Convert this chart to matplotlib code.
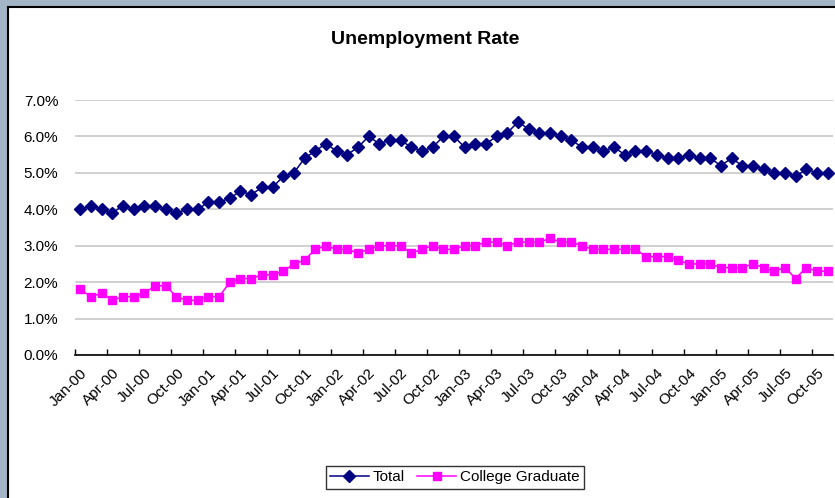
import numpy as np
import matplotlib
matplotlib.use("Agg")
import matplotlib.pyplot as plt
from matplotlib import font_manager
from matplotlib.patches import Rectangle

# monthly values, Jan-00 .. Nov-05
months = [f"{m}-{y:02d}" for y in range(0, 6)
          for m in ["Jan", "Feb", "Mar", "Apr", "May", "Jun",
                    "Jul", "Aug", "Sep", "Oct", "Nov", "Dec"]][:71]

total = [4.0, 4.1, 4.0, 3.9, 4.1, 4.0, 4.1, 4.1, 4.0, 3.9, 4.0, 4.0,
         4.2, 4.2, 4.3, 4.5, 4.4, 4.6, 4.6, 4.9, 5.0, 5.4, 5.6, 5.8,
         5.6, 5.5, 5.7, 6.0, 5.8, 5.9, 5.9, 5.7, 5.6, 5.7, 6.0, 6.0,
         5.7, 5.8, 5.8, 6.0, 6.1, 6.4, 6.2, 6.1, 6.1, 6.0, 5.9, 5.7,
         5.7, 5.6, 5.7, 5.5, 5.6, 5.6, 5.5, 5.4, 5.4, 5.5, 5.4, 5.4,
         5.2, 5.4, 5.2, 5.2, 5.1, 5.0, 5.0, 4.9, 5.1, 5.0, 5.0]

college = [1.8, 1.6, 1.7, 1.5, 1.6, 1.6, 1.7, 1.9, 1.9, 1.6, 1.5, 1.5,
           1.6, 1.6, 2.0, 2.1, 2.1, 2.2, 2.2, 2.3, 2.5, 2.6, 2.9, 3.0,
           2.9, 2.9, 2.8, 2.9, 3.0, 3.0, 3.0, 2.8, 2.9, 3.0, 2.9, 2.9,
           3.0, 3.0, 3.1, 3.1, 3.0, 3.1, 3.1, 3.1, 3.2, 3.1, 3.1, 3.0,
           2.9, 2.9, 2.9, 2.9, 2.9, 2.7, 2.7, 2.7, 2.6, 2.5, 2.5, 2.5,
           2.4, 2.4, 2.4, 2.5, 2.4, 2.3, 2.4, 2.1, 2.4, 2.3, 2.3]

yticks = [0, 1, 2, 3, 4, 5, 6, 7]

installed = {f.name for f in font_manager.fontManager.ttflist}
if "Liberation Sans Narrow" in installed:
    plt.rcParams["font.family"] = ["Liberation Sans Narrow", "DejaVu Sans"]
    fs, fs_title = 13, 16
else:
    plt.rcParams["font.family"] = ["Liberation Sans", "DejaVu Sans"]
    fs, fs_title = 11, 14

fig = plt.figure(figsize=(8.35, 4.98), dpi=100, facecolor="#a4b5c6")
fig.patches.append(Rectangle((8 / 835, -0.1), 1.2, 1.1 - 7 / 498,
                             transform=fig.transFigure, facecolor="white",
                             edgecolor="black", linewidth=1.5, zorder=-5))

ax = fig.add_axes([75 / 835, 1 - 355 / 498, 758 / 835, 255 / 498])
ax.set_facecolor("none")

x = np.arange(len(total))
ax.plot(x, total, color="#000080", marker="D", markersize=6, lw=1.1,
        label="Total", clip_on=False, zorder=3)
ax.plot(x, college, color="#ff00ff", marker="s", markersize=6, lw=1.1,
        label="College Graduate", clip_on=False, zorder=3)

ax.set_xlim(-0.5, len(total) - 0.5)
ax.set_ylim(0, 7)
ax.set_yticks(yticks)
ax.set_yticklabels([f"{v:.1f}%" for v in yticks], fontsize=fs)
ax.tick_params(axis="y", length=0, pad=12)
ax.yaxis.grid(True, color="#c8c8c8", lw=1.2)
ax.set_axisbelow(True)

ax.set_xticks(x[::3])
ax.set_xticklabels(months[::3], rotation=45, ha="right",
                   rotation_mode="anchor", fontsize=fs)
ax.set_xticks(np.arange(-0.5, len(total) - 1, 3), minor=True)
ax.tick_params(axis="x", which="major", length=0, pad=8)
ax.tick_params(axis="x", which="minor", direction="in", length=4,
               width=1, color="black")

for s in ["left", "right", "top"]:
    ax.spines[s].set_visible(False)
ax.spines["bottom"].set_color("black")
ax.spines["bottom"].set_linewidth(1.2)

fig.text(0.509, 0.92, "Unemployment Rate", ha="center", va="center",
         fontsize=fs_title, fontweight="bold")

leg = fig.legend(loc="center", bbox_to_anchor=(0.545, 0.042), ncol=2,
                 fontsize=fs, frameon=True, fancybox=False, numpoints=1,
                 handlelength=2.5, columnspacing=0.8, handletextpad=0.3,
                 borderpad=0.3, borderaxespad=0)
leg.get_frame().set_edgecolor("black")
leg.get_frame().set_linewidth(1.0)

fig.savefig("out.png", dpi=100, facecolor=fig.get_facecolor())
